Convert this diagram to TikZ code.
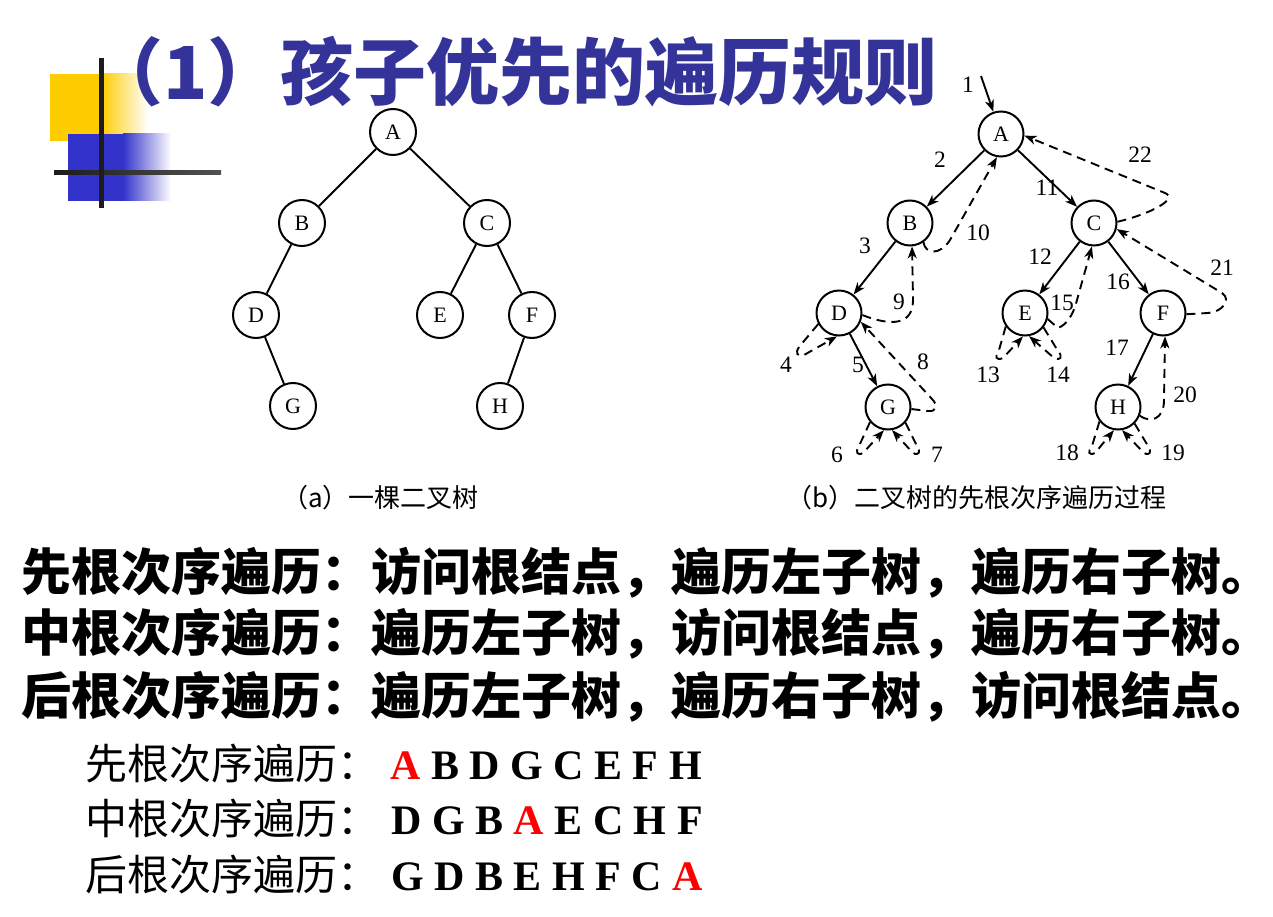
\documentclass[tikz,border=0pt]{standalone}
\usepackage{fontspec}
\setmainfont{Liberation Serif}
\newfontfamily\cjk{Noto Sans CJK SC}
\usetikzlibrary{arrows.meta}
\definecolor{titleblue}{RGB}{51,51,153}
\definecolor{decoyellow}{RGB}{255,204,0}
\definecolor{decoblue}{RGB}{51,51,204}
\definecolor{barline}{RGB}{28,28,28}

\begin{document}
\begin{tikzpicture}[x=1pt,y=-1pt,
  plainnode/.style={circle,draw,line width=2pt,minimum size=46pt,inner sep=0pt,
    font=\fontsize{22}{22}\selectfont},
  walknode/.style={plainnode,minimum size=45pt},
  treeedge/.style={line width=1.9pt},
  walk/.style={line width=1.9pt,-{Stealth[length=12pt,width=9pt,inset=3.5pt]}},
  back/.style={walk,dash pattern=on 9pt off 6pt},
  num/.style={font=\fontsize{23.5}{23.5}\selectfont,inner sep=0pt},
  caption/.style={font=\cjk\fontsize{26}{26}\selectfont,inner sep=0pt,anchor=base west},
  bigline/.style={font=\cjk\bfseries\fontsize{50}{50}\selectfont,inner sep=0pt,anchor=base west},
  smallline/.style={font=\cjk\fontsize{42}{42}\selectfont,inner sep=0pt,anchor=base west},
  seq/.style={font=\bfseries\fontsize{42}{42}\selectfont,inner sep=0pt,anchor=base west},
]
\useasboundingbox (0,0) rectangle (1273,917);
\fill[white] (0,0) rectangle (1273,917);

% corner decoration: two fading squares and a cross of bars
\fill[decoyellow] (50,74) rectangle (101,141);
\shade[left color=decoyellow,right color=white] (101,74) rectangle (148,141);
\fill[decoblue] (68,134) rectangle (123,201);
\shade[left color=decoblue,right color=white] (123,134) rectangle (171,201);
\shade[left color=barline,right color=black!68] (54,171) rectangle (221,175);
\fill[barline] (99,58) rectangle (104,208);

% heading
\node[anchor=base east,inner sep=0pt,text=titleblue,
  font=\cjk\bfseries\fontsize{73}{73}\selectfont] (title) at (938,100)
  {（1）孩子优先的遍历规则};

% (a) the binary tree
\node[plainnode] (lA) at (393,132) {A};
\node[plainnode] (lB) at (302,223) {B};
\node[plainnode] (lC) at (487,223) {C};
\node[plainnode] (lD) at (256,315) {D};
\node[plainnode] (lE) at (440,315) {E};
\node[plainnode] (lF) at (532,315) {F};
\node[plainnode] (lG) at (293,406) {G};
\node[plainnode] (lH) at (500,406) {H};
\draw[treeedge] (lA) -- (lB);
\draw[treeedge] (lA) -- (lC);
\draw[treeedge] (lB) -- (lD);
\draw[treeedge] (lD) -- (lG);
\draw[treeedge] (lC) -- (lE);
\draw[treeedge] (lC) -- (lF);
\draw[treeedge] (lF) -- (lH);
\node[caption] (capa) at (282,507) {（a）一棵二叉树};

% (b) preorder walk over the same tree
\node[walknode] (rA) at (1001,134) {A};
\node[walknode] (rB) at (910,223) {B};
\node[walknode] (rC) at (1094,223) {C};
\node[walknode] (rD) at (839,313) {D};
\node[walknode] (rE) at (1025,313) {E};
\node[walknode] (rF) at (1163,313) {F};
\node[walknode] (rG) at (888,407) {G};
\node[walknode] (rH) at (1118,407) {H};

\coordinate (entry) at (981,76);
\draw[walk] (entry) -- (rA);
\draw[walk] (rA) -- (rB);
\draw[walk] (rB) -- (rD);
\draw[walk] (rD) -- (rG);
\draw[walk] (rA) -- (rC);
\draw[walk] (rC) -- (rE);
\draw[walk] (rC) -- (rF);
\draw[walk] (rF) -- (rH);

% returns along the walk
\draw[back] (rD.208) -- (799,347) .. controls (795,353) and (797,357) .. (804,355) -- (rD.-95);
\draw[back] (rG.220) -- (859,446) .. controls (855,452) and (857,456) .. (863,453) -- (rG.-100);
\draw[back] (rG.-42) -- (917,446) .. controls (921,452) and (919,456) .. (913,453) -- (rG.-80);
\draw[back] (rG.-5) -- (928,411) .. controls (937,412) and (938,405) .. (932,399) -- (rD.-22);
\draw[back] (rD.-5) .. controls (890,326) and (913,326) .. (913,300) -- (rB.-85);
\draw[back] (rB.-55) .. controls (925,254) and (940,256) .. (950,240) -- (rA.-100);
\draw[back] (rE.215) -- (999,350) .. controls (994,357) and (996,361) .. (1003,358) -- (rE.-95);
\draw[back] (rE.-38) -- (1058,351) .. controls (1063,357) and (1061,361) .. (1054,358) -- (rE.-80);
\draw[back] (rE.-15) -- (1058,328) .. controls (1066,325) and (1073,316) .. (1077,300) -- (rC.-95);
\draw[back] (rH.218) -- (1092,446) .. controls (1087,452) and (1089,456) .. (1095,453) -- (rH.-100);
\draw[back] (rH.-45) -- (1148,446) .. controls (1152,452) and (1150,456) .. (1144,453) -- (rH.-80);
\draw[back] (rH.-22) .. controls (1150,423) and (1164,420) .. (1164,400) -- (rF.-85);
\draw[back] (rF.-3) -- (1208,313) .. controls (1222,312) and (1232,300) .. (1222,293) -- (rC.-15);
\draw[back] (rC.3) .. controls (1150,214) and (1179,199) .. (1165,193) -- (rA.-4);

% step numbers
\node[num] (n1) at (968,85) {1};
\node[num] (n2) at (940,160) {2};
\node[num] (n3) at (865,246) {3};
\node[num] (n4) at (786,365) {4};
\node[num] (n5) at (858,365) {5};
\node[num] (n6) at (837,455) {6};
\node[num] (n7) at (937,455) {7};
\node[num] (n8) at (923,362) {8};
\node[num] (n9) at (899,302) {9};
\node[num] (n10) at (978,233) {10};
\node[num] (n11) at (1047,188) {11};
\node[num] (n12) at (1040,257) {12};
\node[num] (n13) at (988,375) {13};
\node[num] (n14) at (1058,375) {14};
\node[num] (n15) at (1062,303) {15};
\node[num] (n16) at (1118,282) {16};
\node[num] (n17) at (1117,348) {17};
\node[num] (n18) at (1067,453) {18};
\node[num] (n19) at (1173,453) {19};
\node[num] (n20) at (1185,395) {20};
\node[num] (n21) at (1222,268) {21};
\node[num] (n22) at (1140,155) {22};
\node[caption] (capb) at (786,507) {（b）二叉树的先根次序遍历过程};

% the three traversal rules
\node[bigline] (rule1) at (21,590) {先根次序遍历：访问根结点，遍历左子树，遍历右子树。};
\node[bigline] (rule2) at (21,651) {中根次序遍历：遍历左子树，访问根结点，遍历右子树。};
\node[bigline] (rule3) at (21,714) {后根次序遍历：遍历左子树，遍历右子树，访问根结点。};

% resulting visiting orders
\node[smallline] (pre) at (85,779) {先根次序遍历：};
\node[smallline] (in) at (85,834) {中根次序遍历：};
\node[smallline] (post) at (85,890) {后根次序遍历：};
\node[seq] (preseq) at (390,779) {\textcolor{red}{A} B D G C E F H};
\node[seq] (inseq) at (391,834) {D G B \textcolor{red}{A} E C H F};
\node[seq] (postseq) at (391,890) {G D B E H F C \textcolor{red}{A}};
\end{tikzpicture}
\end{document}
